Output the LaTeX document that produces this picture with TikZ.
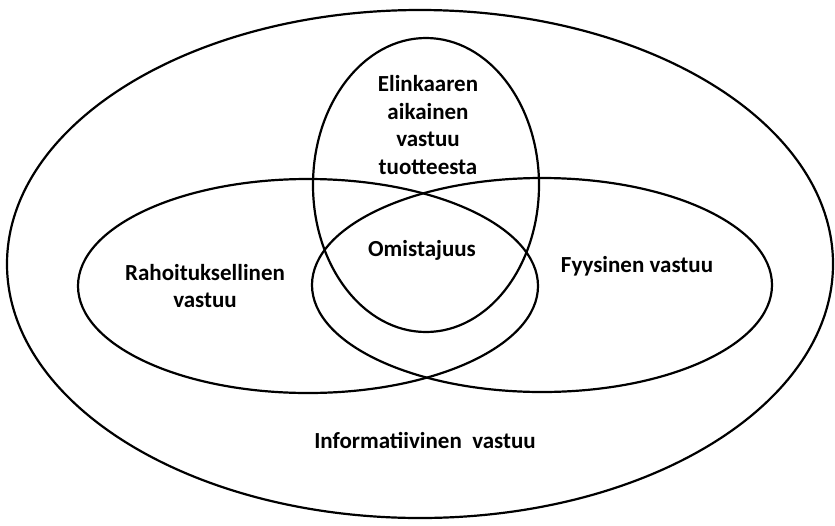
\documentclass[tikz,border=0pt]{standalone}
\usepackage{fontspec}
\setmainfont{Carlito}
\tikzset{
        % Set outlines
        set_line/.style={draw=black, line width=1.1pt},
        % Set labels
        set_label/.style={align=center, inner sep=0pt, font=\bfseries\fontsize{11.5}{13.9}\selectfont}
}
\begin{document}
\begin{tikzpicture}[x=0.5pt, y=-0.5pt]
            \useasboundingbox (0,0) rectangle (835,525);
            % ellipse centres
            \coordinate (c_info) at (420,264);
            \coordinate (c_elin) at (426,185);
            \coordinate (c_raho) at (308,286);
            \coordinate (c_fyys) at (542,285);
            \draw[set_line] (c_info) ellipse [x radius=206.5pt, y radius=127pt];
            \draw[set_line] (c_elin) ellipse [x radius=56.5pt, y radius=73.5pt];
            \draw[set_line] (c_raho) ellipse [x radius=115pt, y radius=53.5pt];
            \draw[set_line] (c_fyys) ellipse [x radius=115pt, y radius=53.5pt];
            % labels
            \node[set_label] (elin) at (428,125) {Elinkaaren\\aikainen\\vastuu\\tuotteesta};
            \node[set_label] (omis) at (422,250) {Omistajuus};
            \node[set_label] (raho) at (205,286) {Rahoituksellinen\\vastuu};
            \node[set_label] (fyys) at (637,266) {Fyysinen vastuu};
            \node[set_label] (info) at (425,440) {Informatiivinen\ \ vastuu};
\end{tikzpicture}
\end{document}
